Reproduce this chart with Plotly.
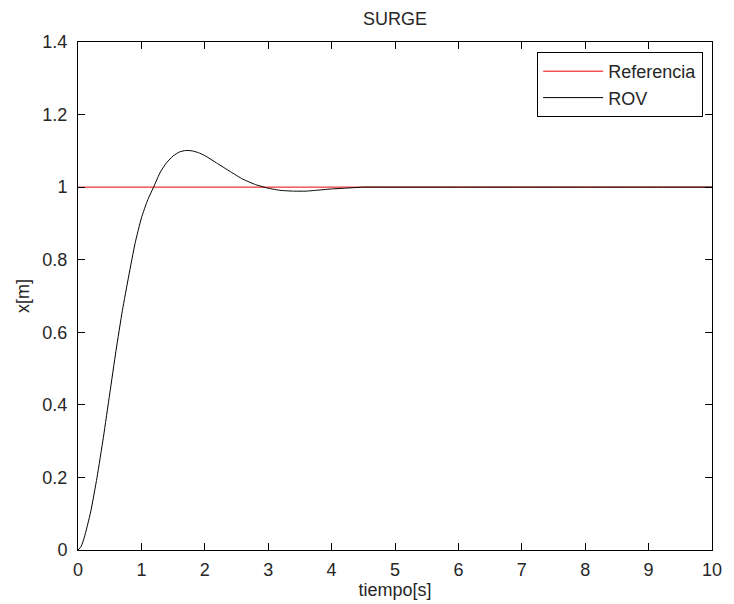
import plotly.graph_objects as go

# Time samples [s] and ROV response x[m]
t_rov = [0, 0.05, 0.1, 0.2, 0.3, 0.4, 0.5, 0.6, 0.7, 0.8, 0.9, 1.0, 1.1, 1.2,
         1.3, 1.4, 1.5, 1.6, 1.7, 1.8, 1.9, 2.0, 2.2, 2.4, 2.6, 2.8, 3.0,
         3.2, 3.4, 3.6, 3.8, 4.0, 4.2, 4.4, 4.5, 5, 6, 7, 8, 9, 10]
x_rov = [0, 0.01, 0.035, 0.105, 0.2, 0.31, 0.43, 0.55, 0.66, 0.755, 0.845,
         0.915, 0.965, 1.003, 1.042, 1.068, 1.086, 1.097, 1.101, 1.1, 1.095,
         1.087, 1.065, 1.043, 1.022, 1.007, 0.997, 0.991, 0.989, 0.989,
         0.992, 0.995, 0.997, 0.999, 1.0, 1.0, 1.0, 1.0, 1.0, 1.0, 1.0]

# Reference step
t_ref = [0, 10]
x_ref = [1, 1]

x_ticks = [0, 1, 2, 3, 4, 5, 6, 7, 8, 9, 10]
y_ticks = [0, 0.2, 0.4, 0.6, 0.8, 1, 1.2, 1.4]

FONT = "Liberation Sans, Arial, sans-serif"
FS = 18
TXT = "#262626"

fig = go.Figure()
fig.add_trace(go.Scatter(x=t_ref, y=x_ref, mode="lines", name="Referencia",
                         line=dict(color="#f00000", width=1)))
fig.add_trace(go.Scatter(x=t_rov, y=x_rov, mode="lines", name="ROV",
                         line=dict(color="black", width=1, shape="spline", smoothing=0.5)))

axis_common = dict(showgrid=False, zeroline=False, showline=True, linecolor="black",
                   linewidth=1, mirror="ticks", ticks="inside", ticklen=7,
                   tickcolor="black", tickfont=dict(family=FONT, size=FS, color=TXT))

fig.update_layout(
    width=734, height=604,
    margin=dict(l=78, r=12, t=42, b=54),
    paper_bgcolor="white", plot_bgcolor="white",
    font=dict(family=FONT, size=FS, color=TXT),
    title=dict(text="SURGE", x=0.5, xref="paper", y=1 - 19 / 604, yref="container",
               yanchor="middle", xanchor="center", font=dict(family=FONT, size=FS, color=TXT)),
    xaxis=dict(range=[0, 10], tickvals=x_ticks, ticklabelstandoff=3,
               title=dict(text="tiempo[s]", standoff=0, font=dict(family=FONT, size=FS, color=TXT)),
               **axis_common),
    yaxis=dict(range=[0, 1.4], tickvals=y_ticks, ticklabelstandoff=6,
               title=dict(text="x[m]", standoff=8, font=dict(family=FONT, size=FS, color=TXT)),
               **axis_common),
    legend=dict(x=(713 - 78) / 644, xanchor="right", y=(550 - 52) / 508, yanchor="top",
                bgcolor="white", bordercolor="black", borderwidth=1,
                font=dict(family=FONT, size=FS, color=TXT), itemwidth=60),
    showlegend=True,
)

fig.write_html("out.html")
